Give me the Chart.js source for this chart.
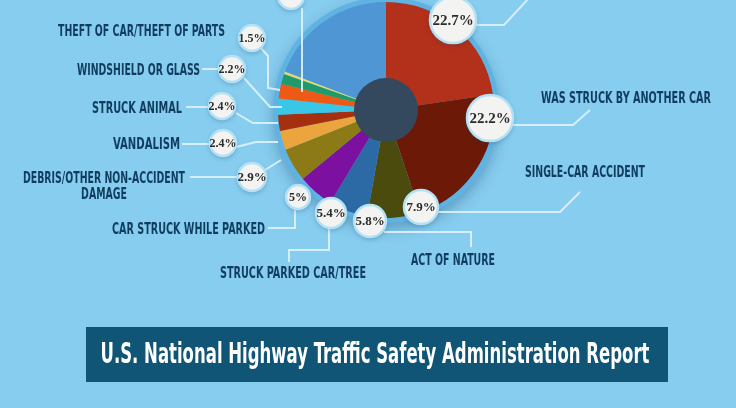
<!DOCTYPE html>
<html>
<head>
<meta charset="utf-8">
<script src="https://cdn.jsdelivr.net/npm/chart.js@4/dist/chart.umd.min.js"></script>
<style>
    html, body { margin: 0; padding: 0; background: #87cdef; }
    #wrap { position: relative; width: 736px; height: 408px; overflow: hidden; }
</style>
</head>
<body>
<div id="wrap"><canvas id="claims-chart" width="736" height="408"></canvas></div>
<script>
// Slices clockwise from 12 o'clock. Names of the top slices are cut off in the picture.
const categories = [
    "",
    "WAS STRUCK BY ANOTHER CAR",
    "SINGLE-CAR ACCIDENT",
    "ACT OF NATURE",
    "STRUCK PARKED CAR/TREE",
    "CAR STRUCK WHILE PARKED",
    ["DEBRIS/OTHER NON-ACCIDENT", "DAMAGE"],
    "VANDALISM",
    "STRUCK ANIMAL",
    "WINDSHIELD OR GLASS",
    "THEFT OF CAR/THEFT OF PARTS",
    "",
    ""
];
const shares = [22.7, 22.2, 7.9, 5.8, 5.4, 5, 2.9, 2.4, 2.4, 2.2, 1.5, 0.4, 19.2];
const sliceColors = [
    "#b3301a", "#6c1908", "#4b4b0d", "#2b6aa5", "#7c10a0", "#8b7a15",
    "#eba53c", "#a62f10", "#3ac6e6", "#ec5a16", "#1f9b6b", "#e6d774", "#4f96d5"
];
const titleText = "U.S. National Highway Traffic Safety Administration Report";

// callout layout, in page pixels with the pie centre at ORIGIN
const ORIGIN = [386, 110];
const CALLOUTS = [
    { b: [453, 20, 23, 15],  paths: [[[476, 25], [504, 25], [530, -3]]] },
    { b: [490, 118, 23, 15], paths: [[[512, 125], [573, 125], [590, 110]]], t: [626, 97, "center", 170] },
    { b: [421, 207, 17, 13], paths: [[[437, 212], [560, 212], [580, 192]]], t: [585, 171, "center", 120] },
    { b: [370, 221, 16, 13], paths: [[[384, 232], [471, 232], [471, 247]]], t: [453, 259, "center", 84] },
    { b: [331, 213, 15, 13], paths: [[[329, 229], [329, 250], [289, 250], [289, 262]]], t: [293, 272, "center", 146] },
    { b: [298, 197, 12, 12], paths: [[[295, 209], [295, 228], [268, 228]]], t: [265, 228, "right", 153] },
    { b: [252, 177, 14, 13], paths: [[[190, 177], [238, 177]], [[265, 170], [281, 160]]], t: [104, 177, "center", 162] },
    { b: [223, 143, 13, 12], paths: [[[182, 144], [210, 144]], [[236, 147], [256, 142], [278, 142]]], t: [180, 143, "right", 67] },
    { b: [222, 106, 13, 12], paths: [[[186, 107], [209, 107]], [[236, 113], [253, 123], [278, 123]]], t: [182, 107, "right", 90] },
    { b: [232, 69, 13, 12],  paths: [[[202, 69], [219, 69]], [[244, 78], [270, 107], [282, 107]]], t: [200, 69, "right", 123] },
    { b: [252, 38, 13, 12],  paths: [[[261, 48], [268, 56], [268, 88], [280, 90]]], t: [225, 30, "right", 167] },
    { b: [291, -4, 13, 12],  paths: [[[302, 8], [302, 92]]] },
    null
];

const LABEL_FONT = "'DejaVu Sans Condensed', 'DejaVu Sans', sans-serif";

function drawSqueezed(ctx, lines, x, y, align, width, size, color, lineH)
{
    ctx.save();
    ctx.font = `bold ${size}px ${LABEL_FONT}`;
    ctx.fillStyle = color;
    ctx.textBaseline = "alphabetic";
    ctx.textAlign = "left";
    const sx = width / ctx.measureText(lines[0]).width;
    lines.forEach((line, i) => {
        const w = ctx.measureText(line).width * sx;
        let left = x;
        if (align === "center") left = x - w / 2;
        else if (align === "right") left = x - w;
        ctx.save();
        ctx.translate(left, y + i * lineH + size * 0.365);
        ctx.scale(sx, 1);
        ctx.fillText(line, 0, 0);
        ctx.restore();
    });
    ctx.restore();
}

const infographic = {
    id: "infographic",
    beforeDraw(chart)
    {
        const ctx = chart.ctx;
        ctx.save();
        ctx.fillStyle = "#87cdef";
        ctx.fillRect(0, 0, chart.width, chart.height);
        ctx.restore();
    },
    beforeDatasetsDraw(chart)
    {
        const arc = chart.getDatasetMeta(0).data[0];
        const ctx = chart.ctx;
        ctx.save();
        ctx.shadowColor = "rgba(20, 70, 110, 0.35)";
        ctx.shadowBlur = 14;
        ctx.shadowOffsetY = 6;
        ctx.fillStyle = "#5fb3e2";
        ctx.beginPath();
        ctx.arc(arc.x, arc.y, arc.outerRadius + 5, 0, Math.PI * 2);
        ctx.fill();
        ctx.restore();
    },
    afterDatasetsDraw(chart)
    {
        const arc = chart.getDatasetMeta(0).data[0];
        const ctx = chart.ctx;
        ctx.save();
        ctx.fillStyle = "#35495e";
        ctx.beginPath();
        ctx.arc(arc.x, arc.y, 32, 0, Math.PI * 2);
        ctx.fill();
        ctx.restore();
    },
    afterDraw(chart)
    {
        const ctx = chart.ctx;
        const arc = chart.getDatasetMeta(0).data[0];
        const dx = arc.x - ORIGIN[0];
        const dy = arc.y - ORIGIN[1];

        // leader lines
        ctx.save();
        ctx.strokeStyle = "rgba(222, 243, 252, 0.9)";
        ctx.lineWidth = 2;
        ctx.lineJoin = "miter";
        CALLOUTS.forEach(c => {
            if (!c) return;
            c.paths.forEach(p => {
                ctx.beginPath();
                p.forEach(([x, y], i) => {
                    if (i === 0) ctx.moveTo(x + dx, y + dy);
                    else ctx.lineTo(x + dx, y + dy);
                });
                ctx.stroke();
            });
        });
        ctx.restore();

        // value bubbles
        CALLOUTS.forEach((c, i) => {
            if (!c) return;
            const [bx, by, r, size] = c.b;
            ctx.save();
            ctx.shadowColor = "rgba(20, 70, 110, 0.35)";
            ctx.shadowBlur = 5;
            ctx.shadowOffsetY = 2;
            ctx.fillStyle = "#f3f3f2";
            ctx.beginPath();
            ctx.arc(bx + dx, by + dy, r, 0, Math.PI * 2);
            ctx.fill();
            ctx.shadowColor = "transparent";
            ctx.strokeStyle = "#b4e1f4";
            ctx.lineWidth = 2.5;
            ctx.stroke();
            ctx.fillStyle = "#2b2b2b";
            ctx.font = `bold ${size}px 'Liberation Serif', 'DejaVu Serif', serif`;
            ctx.textAlign = "center";
            ctx.textBaseline = "middle";
            ctx.fillText(shares[i] + "%", bx + dx, by + dy + 1);
            ctx.restore();
        });

        // category names
        CALLOUTS.forEach((c, i) => {
            if (!c || !c.t) return;
            const name = categories[i];
            const lines = Array.isArray(name) ? name : [name];
            const [tx, ty, align, w] = c.t;
            drawSqueezed(ctx, lines, tx + dx, ty + dy, align, w, 16, "#103d5e", 16);
        });

        // title bar
        ctx.save();
        ctx.fillStyle = "#105576";
        ctx.fillRect(86, 327, 582, 55);
        ctx.restore();
        drawSqueezed(ctx, [titleText], 375, 353, "center", 549, 28, "#ffffff", 0);
    }
};

new Chart(document.getElementById("claims-chart").getContext("2d"), {
    type: "pie",
    data: {
        labels: categories,
        datasets: [{
            data: shares,
            backgroundColor: sliceColors,
            borderWidth: 0
        }]
    },
    options: {
        responsive: false,
        animation: false,
        events: [],
        layout: { padding: { left: 278, right: 242, top: 2, bottom: 190 } },
        plugins: {
            legend: { display: false },
            tooltip: { enabled: false }
        }
    },
    plugins: [infographic]
});
</script>
</body>
</html>
